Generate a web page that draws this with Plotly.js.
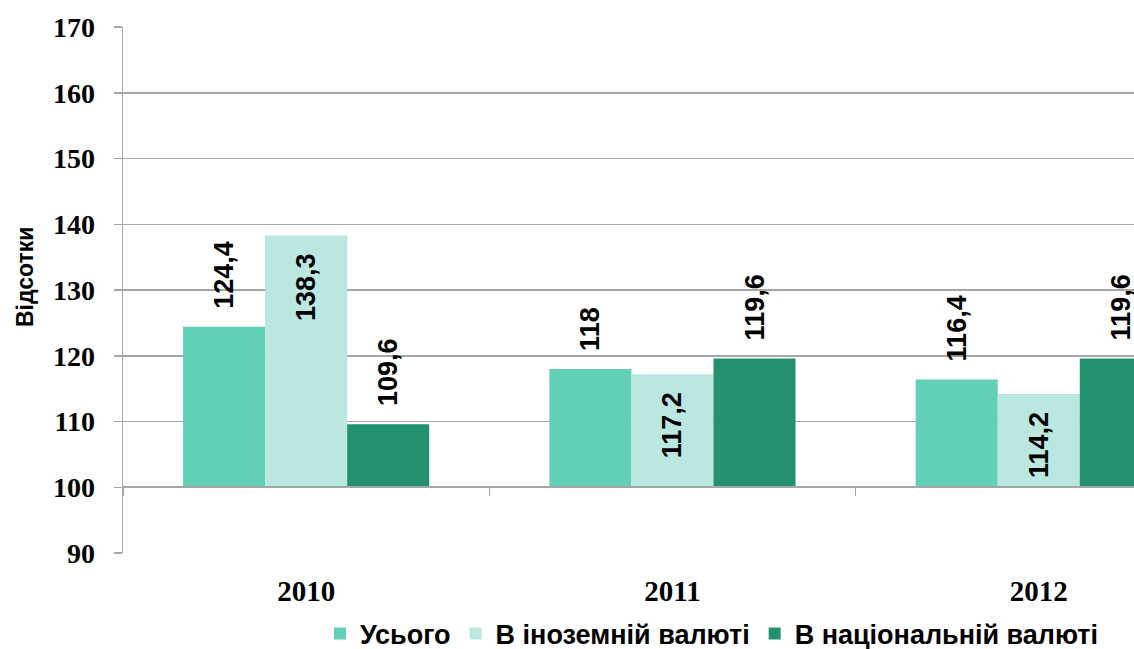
<!DOCTYPE html>
<html>
<head>
<meta charset="utf-8">
<script src="https://cdn.plot.ly/plotly-3.0.1.min.js"></script>
<style>
  html, body { margin: 0; padding: 0; background: #ffffff; }
  #chart { width: 1134px; height: 649px; }
</style>
</head>
<body>
<div id="chart"></div>
<script>
// ---- data ----
const years = ['2010', '2011', '2012'];
const seriesNames = ['Усього', 'В іноземній валюті', 'В національній валюті'];
const totalVals = [124.4, 118, 116.4];
const foreignVals = [138.3, 117.2, 114.2];
const nationalVals = [109.6, 119.6, 119.6];
const baseValue = 100;
const yTicks = [90, 100, 110, 120, 130, 140, 150, 160, 170];
const yTitle = 'Відсотки';

const colors = ['#62CFB7', '#BAE8E1', '#239070'];
const NB = '\u00a0';
const labelFont = { family: 'Liberation Sans, Arial, sans-serif', size: 27, color: '#000000', weight: 'bold' };

function fmt(v) { return String(v).replace('.', ','); }

function makeTrace(name, vals, color, inside) {
  return {
    type: 'bar',
    name: name,
    x: years,
    y: vals.map(v => v - baseValue),
    base: baseValue,
    marker: { color: color, line: { width: 0 } },
    text: vals.map(v => inside ? fmt(v) + NB + NB : NB + NB + fmt(v)),
    textposition: inside ? 'inside' : 'outside',
    insidetextanchor: 'end',
    textangle: -90,
    textfont: labelFont,
    insidetextfont: labelFont,
    outsidetextfont: labelFont,
    constraintext: 'none',
    cliponaxis: false,
    hoverinfo: 'skip'
  };
}

const traces = [
  makeTrace(seriesNames[0], totalVals, colors[0], false),
  makeTrace(seriesNames[1], foreignVals, colors[1], true),
  makeTrace(seriesNames[2], nationalVals, colors[2], false),
  // helper trace for the category axis drawn at the 100 level
  { type: 'scatter', x: years, y: years.map(() => null), xaxis: 'x2', yaxis: 'y',
    showlegend: false, hoverinfo: 'skip', mode: 'markers' }
];

const plotLeft = 123, plotTop = 27, plotBottom = 553, W = 1134, H = 649;
const plotH = plotBottom - plotTop;
const catWidthPx = 366.3;
const plotW = W - plotLeft;
const xRange = [-0.5, -0.5 + plotW / catWidthPx];
const yRange = [90, 170];
const axisPos = (baseValue - yRange[0]) / (yRange[1] - yRange[0]);

const layout = {
  width: W, height: H,
  margin: { l: plotLeft, r: 0, t: plotTop, b: H - plotBottom, pad: 0, autoexpand: false },
  paper_bgcolor: '#ffffff',
  plot_bgcolor: '#ffffff',
  barmode: 'group',
  bargap: 0.328,
  bargroupgap: 0,
  showlegend: true,
  legend: {
    orientation: 'h',
    x: (320 - plotLeft) / plotW, xanchor: 'left',
    y: (plotBottom - 634) / plotH, yanchor: 'middle',
    font: { family: 'Liberation Sans, Arial, sans-serif', size: 27, color: '#000000', weight: 'bold' },
    itemwidth: 30,
    tracegroupgap: 0,
    bgcolor: 'rgba(0,0,0,0)'
  },
  annotations: [{
    text: yTitle,
    xref: 'paper', yref: 'paper',
    x: (25 - plotLeft) / plotW, y: (plotBottom - 277) / plotH,
    xanchor: 'center', yanchor: 'middle',
    textangle: -90,
    showarrow: false,
    font: { family: 'Liberation Sans, Arial, sans-serif', size: 23, color: '#000000', weight: 'bold' }
  }],
  xaxis: {
    type: 'category',
    range: xRange,
    showgrid: false,
    zeroline: false,
    showline: false,
    ticks: '',
    ticklabelstandoff: 18,
    tickfont: { family: 'Liberation Serif, Times New Roman, serif', size: 29, color: '#000000', weight: 'bold' },
    fixedrange: true
  },
  xaxis2: {
    type: 'category',
    overlaying: 'x',
    matches: 'x',
    anchor: 'free',
    position: axisPos,
    range: xRange,
    showgrid: false,
    zeroline: false,
    showline: true,
    linecolor: '#A6A6A6',
    linewidth: 2,
    ticks: 'outside',
    tickson: 'boundaries',
    ticklen: 8,
    tickwidth: 1.5,
    tickcolor: '#A6A6A6',
    showticklabels: false,
    fixedrange: true
  },
  yaxis: {
    range: yRange,
    tickvals: yTicks,
    ticktext: yTicks.map(String),
    showgrid: true,
    gridcolor: '#A6A6A6',
    gridwidth: 1.5,
    zeroline: false,
    showline: true,
    linecolor: '#A6A6A6',
    linewidth: 1.5,
    ticks: 'outside',
    ticklen: 8,
    tickwidth: 1.5,
    tickcolor: '#A6A6A6',
    ticklabelstandoff: 13,
    tickfont: { family: 'Liberation Serif, Times New Roman, serif', size: 28, color: '#000000', weight: 'bold' },
    fixedrange: true
  }
};

Plotly.newPlot('chart', traces, layout, { staticPlot: true, displayModeBar: false });
</script>
</body>
</html>
